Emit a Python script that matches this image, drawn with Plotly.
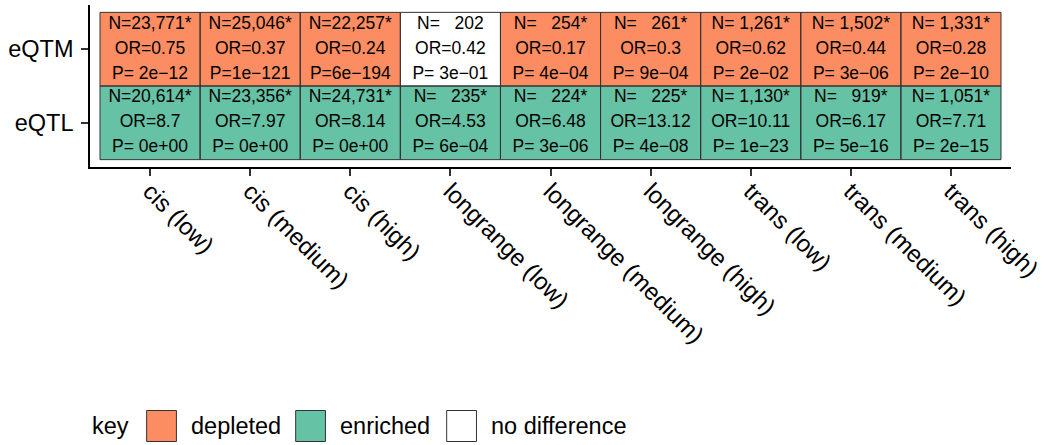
import plotly.graph_objects as go

# Categories along the x axis and the two QTL types on the y axis
categories = ["cis (low)", "cis (medium)", "cis (high)",
              "longrange (low)", "longrange (medium)", "longrange (high)",
              "trans (low)", "trans (medium)", "trans (high)"]
row_labels = ["eQTL", "eQTM"]

# Overlap counts, odds ratios and p-values per category
eqtm_n = [23771, 25046, 22257, 202, 254, 261, 1261, 1502, 1331]
eqtm_or = [0.75, 0.37, 0.24, 0.42, 0.17, 0.3, 0.62, 0.44, 0.28]
eqtm_p = [2e-12, 1e-121, 6e-194, 3e-01, 4e-04, 9e-04, 2e-02, 3e-06, 2e-10]

eqtl_n = [20614, 23356, 24731, 235, 224, 225, 1130, 919, 1051]
eqtl_or = [8.7, 7.97, 8.14, 4.53, 6.48, 13.12, 10.11, 6.17, 7.71]
eqtl_p = [0.0, 0.0, 0.0, 6e-04, 3e-06, 4e-08, 1e-23, 5e-16, 2e-15]

key_labels = ["depleted", "enriched", "no difference"]
key_colors = ["#FC8D62", "#66C2A5", "#FFFFFF"]

ALPHA = 0.05
FONT = "Liberation Sans, Arial, sans-serif"
NBSP = "\u00a0"


def status(p, odds):
    if p >= ALPHA:
        return 2
    return 0 if odds < 1 else 1


def fmt_n(n, p):
    s = f"{n:,}".rjust(6).replace(" ", NBSP)
    return f"N={s}" + ("*" if p < ALPHA else "")


def fmt_or(odds):
    return f"OR={odds:g}"


def fmt_p(p):
    s = f"{p:.0e}".replace("-", "\u2212").rjust(6).replace(" ", NBSP)
    return f"P={s}"


rows = [(eqtl_n, eqtl_or, eqtl_p), (eqtm_n, eqtm_or, eqtm_p)]
xs = list(range(1, len(categories) + 1))
ys = list(range(1, len(row_labels) + 1))

z = [[status(p, o) for o, p in zip(ors, ps)] for _, ors, ps in rows]

fig = go.Figure()
fig.add_trace(go.Heatmap(
    x=xs, y=ys, z=z, zmin=0, zmax=2,
    colorscale=[[0.0, key_colors[0]], [0.5, key_colors[1]], [1.0, key_colors[2]]],
    showscale=False, hoverinfo="skip",
))

# Three text lines per tile
line_off = 0.34
txt_x, txt_y, txt = [], [], []
for yi, (ns, ors, ps) in zip(ys, rows):
    for xi, n, o, p in zip(xs, ns, ors, ps):
        for off, s in ((line_off, fmt_n(n, p)), (0.0, fmt_or(o)), (-line_off, fmt_p(p))):
            txt_x.append(xi)
            txt_y.append(yi + off)
            txt.append(s)
fig.add_trace(go.Scatter(
    x=txt_x, y=txt_y, text=txt, mode="text", textposition="middle center",
    textfont=dict(family=FONT, size=17.5, color="black"),
    hoverinfo="skip", showlegend=False,
))

# Tile outlines
for yi in ys:
    for xi in xs:
        fig.add_shape(type="rect", xref="x", yref="y",
                      x0=xi - 0.5, x1=xi + 0.5, y0=yi - 0.5, y1=yi + 0.5,
                      line=dict(color="#333333", width=1), fillcolor="rgba(0,0,0,0)")

# Key below the panel (pixel layout converted to paper coordinates)
L, R, T, B = 90, 31, 5, 278
W, H = 1048, 445
pw, ph = W - L - R, H - T - B


def px_x(px):
    return (px - L) / pw


def px_y(py):
    return (H - B - py) / ph


key_y = 426
fig.add_annotation(text="key", x=px_x(90), y=px_y(key_y), xref="paper", yref="paper",
                   xanchor="left", yanchor="middle", showarrow=False,
                   font=dict(family=FONT, size=23.5, color="black"))
box_x = [147, 297, 449]
for bx, lab, col in zip(box_x, key_labels, key_colors):
    fig.add_shape(type="rect", xref="paper", yref="paper",
                  x0=px_x(bx), x1=px_x(bx + 30), y0=px_y(key_y - 15.5), y1=px_y(key_y + 15.5),
                  line=dict(color="#333333", width=1), fillcolor=col)
    fig.add_annotation(text=lab, x=px_x(bx + 43), y=px_y(key_y), xref="paper", yref="paper",
                       xanchor="left", yanchor="middle", showarrow=False,
                       font=dict(family=FONT, size=23.5, color="black"))

fig.update_xaxes(
    range=[0.4, len(categories) + 0.6], tickvals=xs, ticktext=categories,
    tickangle=45, showline=True, linecolor="black", linewidth=1.5,
    ticks="outside", ticklen=7, tickwidth=1.5, tickcolor="#333333",
    ticklabelstandoff=-8, ticklabeloverflow="allow",
    showgrid=False, zeroline=False,
    tickfont=dict(family=FONT, size=24, color="black"),
)
fig.update_yaxes(
    range=[0.4, len(row_labels) + 0.6], tickvals=ys, ticktext=row_labels,
    showline=True, linecolor="black", linewidth=1.5,
    ticks="outside", ticklen=7, tickwidth=1.5, tickcolor="#333333",
    ticklabelstandoff=3,
    showgrid=False, zeroline=False,
    tickfont=dict(family=FONT, size=23.5, color="black"),
)
fig.update_layout(
    width=W, height=H, margin=dict(l=L, r=R, t=T, b=B),
    paper_bgcolor="white", plot_bgcolor="white", showlegend=False,
    font=dict(family=FONT),
)

fig.write_html("out.html")
